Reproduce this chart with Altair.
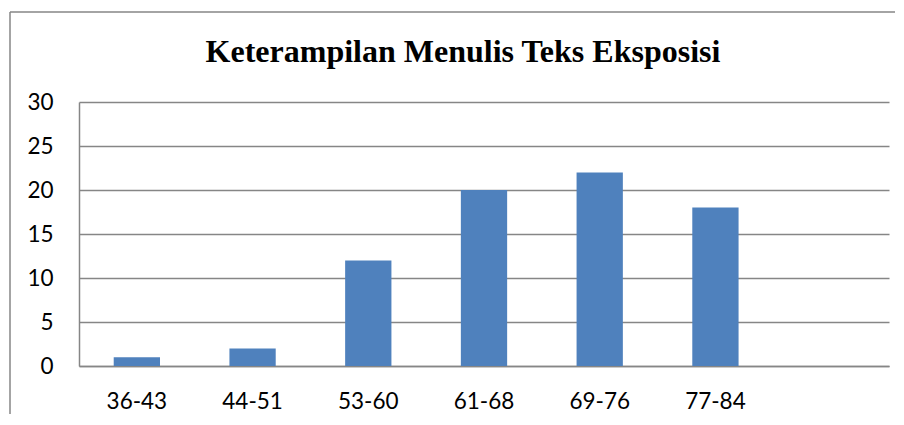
import altair as alt
import pandas as pd

title_text = "Keterampilan Menulis Teks Eksposisi"
categories = ["36-43", "44-51", "53-60", "61-68", "69-76", "77-84"]
values = [1, 2, 12, 20, 22, 18]
x_domain = categories + [" "]
y_ticks = [0, 5, 10, 15, 20, 25, 30]

df = pd.DataFrame({"kelas": categories, "jumlah": values})

W, H = 810, 264
GRID = "#868686"

bars = alt.Chart(df).mark_bar(color="#4F81BD").encode(
    x=alt.X("kelas:N",
            scale=alt.Scale(domain=x_domain, paddingInner=0.6, paddingOuter=0.3),
            sort=None,
            axis=alt.Axis(title=None, labelAngle=0, ticks=False, domain=True,
                          domainColor=GRID, domainWidth=1.5, labelPadding=24,
                          labelFont="Lato", labelFontSize=22.5, labelColor="#000000",
                          grid=False)),
    y=alt.Y("jumlah:Q",
            scale=alt.Scale(domain=[0, 30], nice=False),
            axis=alt.Axis(title=None, values=y_ticks, ticks=False, domain=True,
                          domainColor=GRID, domainWidth=1.5, labelPadding=26,
                          labelFont="Lato", labelFontSize=22.5, labelColor="#000000",
                          grid=True, gridColor=GRID, gridWidth=1.5)),
)

one = alt.Data(values=[{"t": title_text}])

title = alt.Chart(one).mark_text(
    font="Liberation Serif", fontSize=32, fontWeight="bold", color="#000000",
    align="center", baseline="alphabetic"
).encode(x=alt.value(384), y=alt.value(-40), text="t:N")

border_left = alt.Chart(one).mark_rule(color=GRID, strokeWidth=1.5).encode(
    x=alt.value(-69), y=alt.value(-90), y2=alt.value(318))
border_top = alt.Chart(one).mark_rule(color=GRID, strokeWidth=1.5).encode(
    x=alt.value(-69), x2=alt.value(816), y=alt.value(-90))

chart = alt.layer(border_left, border_top, bars, title).properties(
    width=W, height=H,
    autosize=alt.AutoSizeParams(type="none"),
    padding={"left": 71, "top": 94, "right": 6, "bottom": 48},
).configure_view(stroke=None)

chart.save("out.html", embed_options={"renderer": "svg", "actions": False})
